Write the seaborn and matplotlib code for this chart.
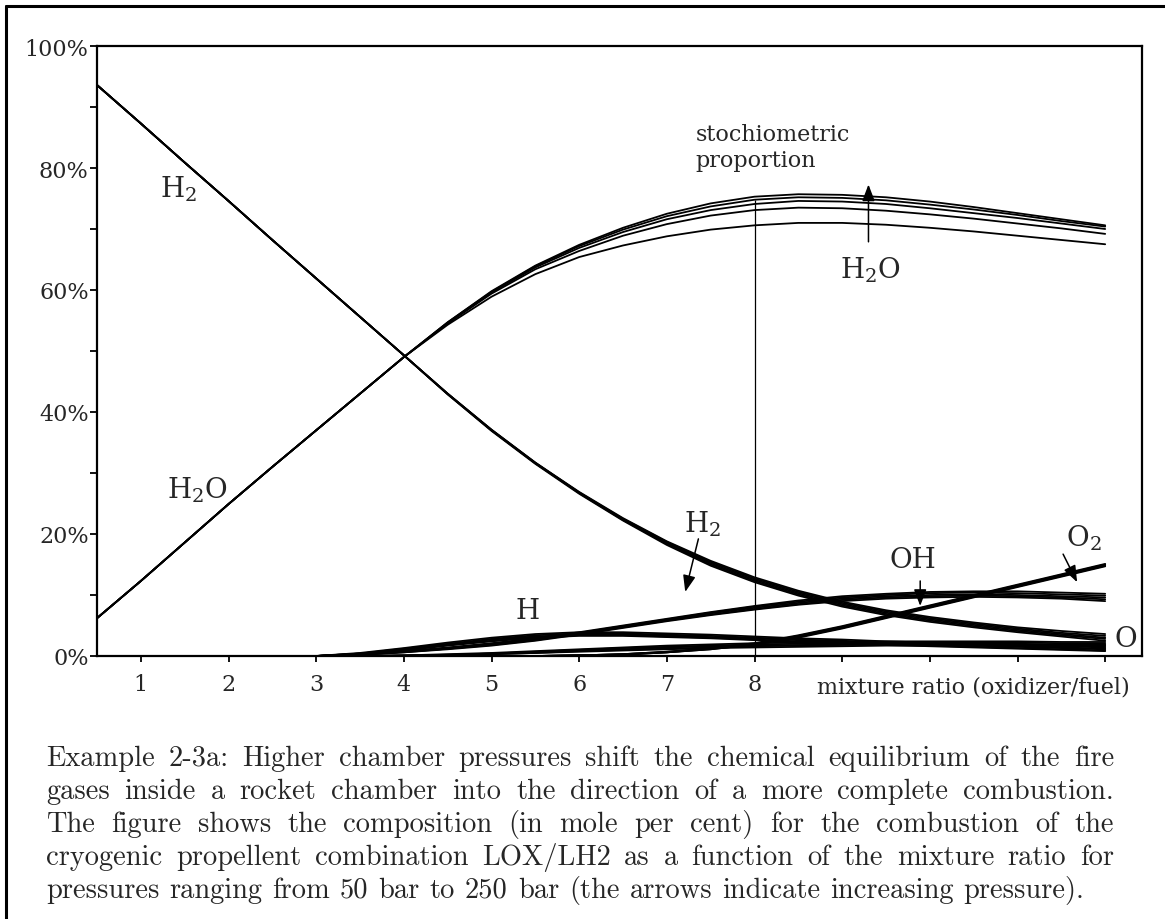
import numpy as np
import pandas as pd
import matplotlib
matplotlib.use('Agg')
import matplotlib.pyplot as plt
from matplotlib.lines import Line2D
import seaborn as sns

# chamber pressures (bar), one curve per pressure and species
PRESSURES = [50, 100, 150, 200, 250]

# mixture ratio grid
X_FULL = [0.5, 1, 1.5, 2, 2.5, 3, 3.5, 4, 4.5, 5, 5.5, 6,
          6.5, 7, 7.5, 8, 8.5, 9, 9.5, 10, 10.5, 11, 11.5, 12]
X_MINOR = [3, 3.5, 4, 4.5, 5, 5.5, 6, 6.5, 7, 7.5, 8, 8.5,
           9, 9.5, 10, 10.5, 11, 11.5, 12]

# mole per cent, rows = 50 ... 250 bar
H2O = [
    [6.2, 12.3, 18.6, 24.9, 31.0, 37.0, 43.0, 49.0, 54.3, 58.9, 62.6, 65.4,
     67.3, 68.8, 69.9, 70.6, 71.0, 71.0, 70.7, 70.2, 69.6, 68.9, 68.2, 67.5],
    [6.2, 12.3, 18.6, 24.9, 31.0, 37.0, 43.0, 49.0, 54.5, 59.4, 63.4, 66.4,
     68.9, 70.8, 72.2, 73.1, 73.5, 73.4, 73.0, 72.4, 71.7, 70.9, 70.1, 69.2],
    [6.2, 12.3, 18.6, 24.9, 31.0, 37.0, 43.0, 49.0, 54.6, 59.6, 63.7, 66.9,
     69.5, 71.6, 73.1, 74.1, 74.6, 74.5, 74.1, 73.4, 72.6, 71.8, 70.9, 70.0],
    [6.2, 12.3, 18.6, 24.9, 31.0, 37.0, 43.0, 49.0, 54.7, 59.7, 63.9, 67.2,
     69.9, 72.1, 73.7, 74.8, 75.2, 75.1, 74.7, 74.0, 73.2, 72.3, 71.3, 70.4],
    [6.2, 12.3, 18.6, 24.9, 31.0, 37.0, 43.0, 49.0, 54.7, 59.8, 64.0, 67.4,
     70.2, 72.5, 74.2, 75.3, 75.7, 75.6, 75.2, 74.5, 73.6, 72.6, 71.6, 70.6],
]
H2 = [
    [93.6, 87.3, 80.9, 74.6, 68.2, 61.9, 55.6, 49.3, 43.0, 37.1, 31.7, 26.9,
     22.6, 18.8, 15.6, 12.9, 10.7, 8.9, 7.5, 6.4, 5.5, 4.7, 4.1, 3.6],
    [93.6, 87.3, 80.9, 74.6, 68.2, 61.9, 55.6, 49.3, 43.0, 37.1, 31.7, 26.8,
     22.5, 18.7, 15.4, 12.7, 10.5, 8.7, 7.3, 6.2, 5.3, 4.5, 3.8, 3.3],
    [93.6, 87.3, 80.9, 74.6, 68.2, 61.9, 55.6, 49.3, 43.0, 37.0, 31.6, 26.8,
     22.4, 18.5, 15.2, 12.5, 10.3, 8.5, 7.1, 6.0, 5.1, 4.3, 3.6, 3.0],
    [93.6, 87.3, 80.9, 74.6, 68.2, 61.9, 55.6, 49.3, 42.9, 37.0, 31.6, 26.7,
     22.3, 18.4, 15.0, 12.3, 10.1, 8.3, 6.9, 5.8, 4.9, 4.1, 3.4, 2.8],
    [93.6, 87.3, 80.9, 74.6, 68.2, 61.9, 55.6, 49.3, 42.9, 36.9, 31.5, 26.6,
     22.2, 18.2, 14.8, 12.1, 9.9, 8.1, 6.7, 5.6, 4.7, 3.9, 3.2, 2.5],
]
OH = [
    [0.0, 0.3, 0.8, 1.4, 2.1, 2.9, 3.9, 5.0, 6.1, 7.2, 8.2, 9.1, 9.8, 10.2, 10.5, 10.6, 10.6, 10.4, 10.2],
    [0.0, 0.2, 0.7, 1.3, 2.0, 2.8, 3.8, 4.9, 6.0, 7.1, 8.1, 8.9, 9.6, 10.0, 10.3, 10.4, 10.3, 10.1, 9.9],
    [0.0, 0.2, 0.7, 1.2, 1.9, 2.7, 3.7, 4.8, 5.9, 7.0, 7.9, 8.7, 9.4, 9.8, 10.0, 10.1, 10.0, 9.8, 9.6],
    [0.0, 0.2, 0.6, 1.2, 1.8, 2.6, 3.6, 4.7, 5.8, 6.8, 7.7, 8.5, 9.2, 9.6, 9.8, 9.9, 9.8, 9.6, 9.3],
    [0.0, 0.2, 0.6, 1.1, 1.7, 2.5, 3.5, 4.6, 5.7, 6.7, 7.6, 8.4, 9.0, 9.4, 9.6, 9.7, 9.6, 9.4, 9.0],
]
H = [
    [0.0, 0.5, 1.3, 2.2, 3.0, 3.6, 3.9, 3.9, 3.7, 3.5, 3.2, 2.9, 2.7, 2.4, 2.2, 2.0, 1.8, 1.6, 1.4],
    [0.0, 0.4, 1.2, 2.0, 2.8, 3.4, 3.7, 3.7, 3.5, 3.3, 3.0, 2.7, 2.5, 2.2, 2.0, 1.8, 1.6, 1.4, 1.2],
    [0.0, 0.4, 1.1, 1.9, 2.7, 3.2, 3.5, 3.5, 3.4, 3.1, 2.9, 2.6, 2.3, 2.1, 1.9, 1.7, 1.5, 1.3, 1.1],
    [0.0, 0.4, 1.0, 1.8, 2.5, 3.1, 3.4, 3.4, 3.2, 3.0, 2.7, 2.4, 2.2, 1.9, 1.7, 1.5, 1.3, 1.1, 0.9],
    [0.0, 0.3, 0.9, 1.7, 2.4, 3.0, 3.3, 3.3, 3.1, 2.9, 2.6, 2.3, 2.1, 1.8, 1.6, 1.4, 1.2, 1.0, 0.8],
]
O = [
    [0.0, 0.0, 0.1, 0.3, 0.5, 0.8, 1.1, 1.4, 1.7, 1.9, 2.1, 2.2, 2.3, 2.4, 2.4, 2.4, 2.4, 2.3, 2.3],
    [0.0, 0.0, 0.1, 0.2, 0.4, 0.7, 1.0, 1.3, 1.5, 1.7, 1.9, 2.0, 2.1, 2.2, 2.2, 2.2, 2.2, 2.1, 2.1],
    [0.0, 0.0, 0.1, 0.2, 0.4, 0.6, 0.9, 1.1, 1.4, 1.6, 1.7, 1.8, 1.9, 2.0, 2.0, 2.0, 2.0, 1.9, 1.9],
    [0.0, 0.0, 0.0, 0.1, 0.3, 0.5, 0.8, 1.0, 1.2, 1.4, 1.6, 1.7, 1.8, 1.8, 1.8, 1.8, 1.8, 1.8, 1.7],
    [0.0, 0.0, 0.0, 0.1, 0.3, 0.5, 0.7, 0.9, 1.1, 1.3, 1.4, 1.5, 1.6, 1.7, 1.7, 1.7, 1.7, 1.6, 1.6],
]
O2 = [
    [0.0, 0.0, 0.0, 0.0, 0.0, 0.0, 0.1, 0.3, 0.7, 1.3, 2.1, 3.4, 4.9, 6.6, 8.3, 10.0, 11.7, 13.4, 15.1],
    [0.0, 0.0, 0.0, 0.0, 0.0, 0.0, 0.1, 0.3, 0.7, 1.2, 2.0, 3.3, 4.8, 6.5, 8.2, 9.9, 11.6, 13.3, 15.0],
    [0.0, 0.0, 0.0, 0.0, 0.0, 0.0, 0.1, 0.3, 0.6, 1.2, 2.0, 3.2, 4.7, 6.4, 8.1, 9.8, 11.5, 13.2, 14.9],
    [0.0, 0.0, 0.0, 0.0, 0.0, 0.0, 0.1, 0.2, 0.6, 1.1, 1.9, 3.1, 4.6, 6.3, 8.0, 9.7, 11.4, 13.1, 14.8],
    [0.0, 0.0, 0.0, 0.0, 0.0, 0.0, 0.1, 0.2, 0.6, 1.1, 1.9, 3.0, 4.5, 6.2, 7.9, 9.6, 11.3, 13.0, 14.7],
]

STOICH_RATIO = 8
X_TICKS = [1, 2, 3, 4, 5, 6, 7, 8, 9, 10, 11, 12]
X_TICK_LABELS = ['1', '2', '3', '4', '5', '6', '7', '8', '', '', '', '']
Y_TICKS = [0, 10, 20, 30, 40, 50, 60, 70, 80, 90, 100]
Y_TICK_LABELS = ['0%', '', '20%', '', '40%', '', '60%', '', '80%', '', '100%']

CAPTION = [
    "Example 2-3a: Higher chamber pressures shift the chemical equilibrium of the fire",
    "gases inside a rocket chamber into the direction of a more complete combustion.",
    "The figure shows the composition (in mole per cent) for the combustion of the",
    "cryogenic propellent combination LOX/LH2 as a function of the mixture ratio for",
    "pressures ranging from 50 bar to 250 bar (the arrows indicate increasing pressure).",
]

# long table for seaborn
rows = []
for name, xs, table in [('H2O', X_FULL, H2O), ('H2', X_FULL, H2),
                        ('OH', X_MINOR, OH), ('H', X_MINOR, H),
                        ('O', X_MINOR, O), ('O2', X_MINOR, O2)]:
    for p, ys in zip(PRESSURES, table):
        for x, y in zip(xs, ys):
            rows.append({'species': name, 'pressure': p, 'curve': f'{name}-{p}',
                         'ratio': x, 'mole_pct': y})
df = pd.DataFrame(rows)

sns.set_style('ticks')
plt.rcParams['font.family'] = ['DejaVu Serif']
plt.rcParams['mathtext.fontset'] = 'dejavuserif'

W, H_PX = 1165, 920
fig = plt.figure(figsize=(W / 100, H_PX / 100), dpi=100)
ax = fig.add_axes([97 / W, 263 / H_PX, 1045 / W, 610 / H_PX])

sns.lineplot(data=df, x='ratio', y='mole_pct', units='curve', estimator=None,
             color='black', lw=1.3, sort=False, legend=False, ax=ax)

# stoichiometric marker line
ax.vlines(STOICH_RATIO, 0, H2O[3][X_FULL.index(STOICH_RATIO)], color='black', lw=0.9)
ax.text(7.33, 87.3, 'stochiometric\nproportion', fontsize=16, va='top', ha='left',
        linespacing=1.2)

ax.set_xlim(0.5, 12.42)
ax.set_ylim(0, 100)
ax.set_xticks(X_TICKS)
ax.set_xticklabels(X_TICK_LABELS)
ax.set_yticks(Y_TICKS)
ax.set_yticklabels(Y_TICK_LABELS)
ax.set_xlabel('')
ax.set_ylabel('')
ax.tick_params(axis='y', direction='out', length=5, width=1.3, pad=1,
               labelsize=16, color='black')
ax.tick_params(axis='x', direction='out', length=4, width=1.3, pad=8,
               labelsize=16, color='black')
for s in ax.spines.values():
    s.set_visible(True)
    s.set_linewidth(1.6)
    s.set_color('black')

fig.text(817 / W, 1 - 688 / H_PX, 'mixture ratio (oxidizer/fuel)', fontsize=16,
         va='center', ha='left')

# species labels
lab = dict(fontsize=20, ha='center', va='center')
ax.text(1.43, 76.6, r'H$_2$', **lab)
ax.text(1.65, 27.4, r'H$_2$O', **lab)
ax.text(9.32, 63.4, r'H$_2$O', **lab)
ax.text(7.41, 21.8, r'H$_2$', **lab)
ax.text(5.41, 7.5, 'H', **lab)
ax.text(9.81, 15.8, 'OH', **lab)
ax.text(11.75, 19.4, r'O$_2$', **lab)
ax.text(12.24, 2.9, 'O', **lab)

arrow = dict(arrowstyle='-|>,head_length=1.0,head_width=0.38', color='black',
             lw=1.1, shrinkA=0, shrinkB=0, mutation_scale=10)
ax.annotate('', xy=(9.30, 77.3), xytext=(9.30, 67.9), arrowprops=arrow)
ax.annotate('', xy=(7.21, 10.5), xytext=(7.36, 19.2), arrowprops=arrow)
ax.annotate('', xy=(9.89, 8.2), xytext=(9.89, 12.3), arrowprops=arrow)
ax.annotate('', xy=(11.68, 12.1), xytext=(11.52, 16.7), arrowprops=arrow)

# frame lines at left and top of the page
fig.add_artist(Line2D([6 / W, 6 / W], [0, 1 - 7 / H_PX], transform=fig.transFigure,
                      color='black', lw=2.2))
fig.add_artist(Line2D([6 / W, 1], [1 - 7 / H_PX, 1 - 7 / H_PX], transform=fig.transFigure,
                      color='black', lw=2.2))

# justified caption
fig.canvas.draw()
renderer = fig.canvas.get_renderer()
cap_font = dict(fontsize=20.5, family=['cmr10', 'DejaVu Serif'], va='baseline', ha='left')
left, right = 46 / W, 1114 / W
probe_a = fig.text(0, 0, 'x x', **cap_font)
probe_b = fig.text(0, 0, 'xx', **cap_font)
space_w = (probe_a.get_window_extent(renderer).width
           - probe_b.get_window_extent(renderer).width) / fig.bbox.width
probe_a.remove()
probe_b.remove()
for i, line in enumerate(CAPTION):
    y = 1 - (766 + 33 * i) / H_PX
    words = line.split()
    texts = [fig.text(0, y, w, **cap_font) for w in words]
    widths = [t.get_window_extent(renderer).width / fig.bbox.width for t in texts]
    if i < len(CAPTION) - 1:
        gap = (right - left - sum(widths)) / (len(words) - 1)
    else:
        gap = space_w * 1.05
    xpos = left
    for t, wd in zip(texts, widths):
        t.set_x(xpos)
        xpos += wd + gap

fig.savefig('out.png', dpi=100)
